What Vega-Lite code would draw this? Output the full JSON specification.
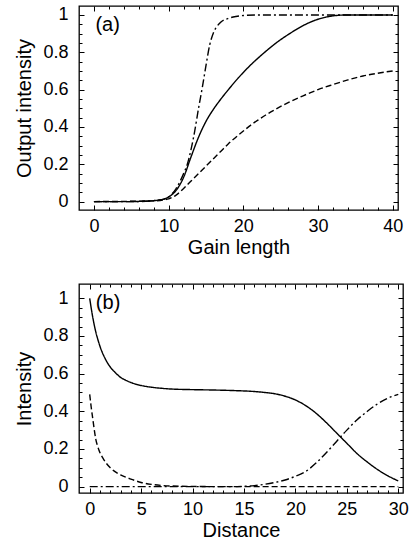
{
  "$schema": "https://vega.github.io/schema/vega-lite/v6.json",
  "background": "white",
  "padding": {"left": 14, "top": 4, "right": 5, "bottom": 2},
  "spacing": 24,
  "config": {
    "view": {"stroke": "black", "strokeWidth": 1.3},
    "font": "Liberation Sans",
    "axis": {
      "domain": false, "grid": false,
      "labelFont": "Liberation Sans", "labelFontSize": 18, "labelColor": "black",
      "titleFont": "Liberation Sans", "titleFontSize": 20, "titleFontWeight": "normal", "titleColor": "black",
      "tickColor": "black", "tickWidth": 1, "tickSize": -5
    }
  },
  "datasets": {
    "a": [
      {"x": 0, "y": 0, "s": "solid"}, {"x": 2, "y": 0, "s": "solid"}, {"x": 4, "y": 0, "s": "solid"}, {"x": 6, "y": 0.001, "s": "solid"}, {"x": 8, "y": 0.005, "s": "solid"}, {"x": 9, "y": 0.01, "s": "solid"}, {"x": 10, "y": 0.025, "s": "solid"}, {"x": 11, "y": 0.06, "s": "solid"}, {"x": 12, "y": 0.13, "s": "solid"}, {"x": 13, "y": 0.24, "s": "solid"}, {"x": 14, "y": 0.345, "s": "solid"}, {"x": 15, "y": 0.43, "s": "solid"}, {"x": 16, "y": 0.495, "s": "solid"}, {"x": 17, "y": 0.55, "s": "solid"}, {"x": 18, "y": 0.6, "s": "solid"}, {"x": 19, "y": 0.648, "s": "solid"}, {"x": 20, "y": 0.692, "s": "solid"}, {"x": 21, "y": 0.733, "s": "solid"}, {"x": 22, "y": 0.77, "s": "solid"}, {"x": 23, "y": 0.805, "s": "solid"}, {"x": 24, "y": 0.838, "s": "solid"}, {"x": 25, "y": 0.868, "s": "solid"}, {"x": 26, "y": 0.895, "s": "solid"}, {"x": 27, "y": 0.92, "s": "solid"}, {"x": 28, "y": 0.943, "s": "solid"}, {"x": 29, "y": 0.962, "s": "solid"}, {"x": 30, "y": 0.977, "s": "solid"}, {"x": 31, "y": 0.988, "s": "solid"}, {"x": 32, "y": 0.995, "s": "solid"}, {"x": 33, "y": 0.999, "s": "solid"}, {"x": 34, "y": 1.0, "s": "solid"}, {"x": 40, "y": 1.0, "s": "solid"},
      {"x": 0, "y": 0, "s": "dashdot"}, {"x": 6, "y": 0, "s": "dashdot"}, {"x": 8, "y": 0.005, "s": "dashdot"}, {"x": 9, "y": 0.01, "s": "dashdot"}, {"x": 10, "y": 0.025, "s": "dashdot"}, {"x": 11, "y": 0.07, "s": "dashdot"}, {"x": 12, "y": 0.15, "s": "dashdot"}, {"x": 12.5, "y": 0.2, "s": "dashdot"}, {"x": 13, "y": 0.28, "s": "dashdot"}, {"x": 13.5, "y": 0.38, "s": "dashdot"}, {"x": 14, "y": 0.5, "s": "dashdot"}, {"x": 14.5, "y": 0.61, "s": "dashdot"}, {"x": 15, "y": 0.73, "s": "dashdot"}, {"x": 15.5, "y": 0.84, "s": "dashdot"}, {"x": 16, "y": 0.905, "s": "dashdot"}, {"x": 16.5, "y": 0.94, "s": "dashdot"}, {"x": 17, "y": 0.962, "s": "dashdot"}, {"x": 18, "y": 0.982, "s": "dashdot"}, {"x": 19, "y": 0.992, "s": "dashdot"}, {"x": 20, "y": 0.997, "s": "dashdot"}, {"x": 22, "y": 1.0, "s": "dashdot"}, {"x": 40, "y": 1.0, "s": "dashdot"},
      {"x": 0, "y": 0, "s": "dashed"}, {"x": 8, "y": 0.004, "s": "dashed"}, {"x": 10, "y": 0.015, "s": "dashed"}, {"x": 11, "y": 0.035, "s": "dashed"}, {"x": 12, "y": 0.07, "s": "dashed"}, {"x": 13, "y": 0.11, "s": "dashed"}, {"x": 14, "y": 0.15, "s": "dashed"}, {"x": 15, "y": 0.19, "s": "dashed"}, {"x": 16, "y": 0.23, "s": "dashed"}, {"x": 17, "y": 0.27, "s": "dashed"}, {"x": 18, "y": 0.31, "s": "dashed"}, {"x": 19, "y": 0.345, "s": "dashed"}, {"x": 20, "y": 0.378, "s": "dashed"}, {"x": 21, "y": 0.41, "s": "dashed"}, {"x": 22, "y": 0.438, "s": "dashed"}, {"x": 23, "y": 0.464, "s": "dashed"}, {"x": 24, "y": 0.488, "s": "dashed"}, {"x": 25, "y": 0.51, "s": "dashed"}, {"x": 26, "y": 0.53, "s": "dashed"}, {"x": 27, "y": 0.549, "s": "dashed"}, {"x": 28, "y": 0.567, "s": "dashed"}, {"x": 29, "y": 0.584, "s": "dashed"}, {"x": 30, "y": 0.6, "s": "dashed"}, {"x": 32, "y": 0.627, "s": "dashed"}, {"x": 34, "y": 0.652, "s": "dashed"}, {"x": 36, "y": 0.673, "s": "dashed"}, {"x": 38, "y": 0.688, "s": "dashed"}, {"x": 40, "y": 0.7, "s": "dashed"}
    ],
    "b": [
      {"x": 0, "y": 1.0, "s": "solid"}, {"x": 0.2, "y": 0.93, "s": "solid"}, {"x": 0.4, "y": 0.87, "s": "solid"}, {"x": 0.6, "y": 0.82, "s": "solid"}, {"x": 0.8, "y": 0.78, "s": "solid"}, {"x": 1, "y": 0.745, "s": "solid"}, {"x": 1.5, "y": 0.68, "s": "solid"}, {"x": 2, "y": 0.635, "s": "solid"}, {"x": 2.5, "y": 0.605, "s": "solid"}, {"x": 3, "y": 0.58, "s": "solid"}, {"x": 3.5, "y": 0.565, "s": "solid"}, {"x": 4, "y": 0.553, "s": "solid"}, {"x": 5, "y": 0.537, "s": "solid"}, {"x": 6, "y": 0.528, "s": "solid"}, {"x": 7, "y": 0.522, "s": "solid"}, {"x": 8, "y": 0.518, "s": "solid"}, {"x": 10, "y": 0.515, "s": "solid"}, {"x": 12, "y": 0.513, "s": "solid"}, {"x": 14, "y": 0.51, "s": "solid"}, {"x": 16, "y": 0.505, "s": "solid"}, {"x": 17, "y": 0.5, "s": "solid"}, {"x": 18, "y": 0.493, "s": "solid"}, {"x": 19, "y": 0.48, "s": "solid"}, {"x": 20, "y": 0.46, "s": "solid"}, {"x": 21, "y": 0.43, "s": "solid"}, {"x": 22, "y": 0.39, "s": "solid"}, {"x": 23, "y": 0.34, "s": "solid"}, {"x": 24, "y": 0.285, "s": "solid"}, {"x": 25, "y": 0.23, "s": "solid"}, {"x": 26, "y": 0.175, "s": "solid"}, {"x": 27, "y": 0.13, "s": "solid"}, {"x": 28, "y": 0.09, "s": "solid"}, {"x": 29, "y": 0.057, "s": "solid"}, {"x": 30, "y": 0.03, "s": "solid"},
      {"x": 0, "y": 0.49, "s": "dashed"}, {"x": 0.15, "y": 0.42, "s": "dashed"}, {"x": 0.3, "y": 0.36, "s": "dashed"}, {"x": 0.45, "y": 0.3, "s": "dashed"}, {"x": 0.6, "y": 0.25, "s": "dashed"}, {"x": 0.8, "y": 0.21, "s": "dashed"}, {"x": 1, "y": 0.18, "s": "dashed"}, {"x": 1.3, "y": 0.15, "s": "dashed"}, {"x": 1.6, "y": 0.125, "s": "dashed"}, {"x": 2, "y": 0.1, "s": "dashed"}, {"x": 2.5, "y": 0.078, "s": "dashed"}, {"x": 3, "y": 0.062, "s": "dashed"}, {"x": 3.5, "y": 0.05, "s": "dashed"}, {"x": 4, "y": 0.04, "s": "dashed"}, {"x": 5, "y": 0.022, "s": "dashed"}, {"x": 6, "y": 0.012, "s": "dashed"}, {"x": 7, "y": 0.006, "s": "dashed"}, {"x": 8, "y": 0.003, "s": "dashed"}, {"x": 10, "y": 0.001, "s": "dashed"}, {"x": 12, "y": 0, "s": "dashed"}, {"x": 30, "y": 0, "s": "dashed"},
      {"x": 0, "y": 0, "s": "dashdot"}, {"x": 14, "y": 0, "s": "dashdot"}, {"x": 15, "y": 0.002, "s": "dashdot"}, {"x": 16, "y": 0.005, "s": "dashdot"}, {"x": 17, "y": 0.012, "s": "dashdot"}, {"x": 18, "y": 0.022, "s": "dashdot"}, {"x": 19, "y": 0.035, "s": "dashdot"}, {"x": 20, "y": 0.055, "s": "dashdot"}, {"x": 21, "y": 0.08, "s": "dashdot"}, {"x": 22, "y": 0.125, "s": "dashdot"}, {"x": 23, "y": 0.18, "s": "dashdot"}, {"x": 24, "y": 0.24, "s": "dashdot"}, {"x": 25, "y": 0.3, "s": "dashdot"}, {"x": 26, "y": 0.355, "s": "dashdot"}, {"x": 27, "y": 0.4, "s": "dashdot"}, {"x": 28, "y": 0.44, "s": "dashdot"}, {"x": 29, "y": 0.47, "s": "dashdot"}, {"x": 30, "y": 0.49, "s": "dashdot"}
    ],
    "labA": [{"x": 0.2, "y": 0.945, "t": "(a)"}],
    "labB": [{"x": 0.6, "y": 0.975, "t": "(b)"}]
  },
  "vconcat": [
    {
      "width": 319, "height": 204,
      "resolve": {"axis": {"x": "independent", "y": "independent"}},
      "layer": [
        {
          "data": {"name": "a"},
          "mark": {"type": "line", "color": "black", "strokeWidth": 1.4, "interpolate": "monotone"},
          "encoding": {
            "x": {"field": "x", "type": "quantitative", "title": "Gain length",
              "scale": {"domain": [-2, 40.7], "nice": false, "zero": false},
              "axis": {"orient": "bottom", "values": [0,2,4,6,8,10,12,14,16,18,20,22,24,26,28,30,32,34,36,38,40],
                "labelExpr": "datum.value % 10 === 0 ? datum.label : ''",
                "tickDash": {"condition": {"test": "datum.value % 10 === 0", "value": [6, 0]}, "value": [3, 20]},
                "labelPadding": 12, "titlePadding": 2}},
            "y": {"field": "y", "type": "quantitative", "title": "Output intensity",
              "scale": {"domain": [-0.045, 1.048], "nice": false, "zero": false},
              "axis": {"orient": "left", "values": [0,0.05,0.1,0.15,0.2,0.25,0.3,0.35,0.4,0.45,0.5,0.55,0.6,0.65,0.7,0.75,0.8,0.85,0.9,0.95,1],
                "labelExpr": "abs(datum.value*5 - round(datum.value*5)) < 1e-6 ? format(datum.value, '.1~f') : ''",
                "tickDash": {"condition": {"test": "abs(datum.value*5 - round(datum.value*5)) < 1e-6", "value": [6, 0]}, "value": [3, 20]},
                "labelPadding": 16, "titlePadding": 8}},
            "strokeDash": {"field": "s", "type": "nominal", "legend": null,
              "scale": {"domain": ["solid", "dashed", "dashdot"], "range": [[1, 0], [6, 3], [8, 3, 2, 3]]}}
          }
        },
        {
          "data": {"name": "labA"},
          "mark": {"type": "text", "align": "left", "baseline": "middle", "fontSize": 20, "font": "Liberation Sans", "color": "black"},
          "encoding": {
            "x": {"field": "x", "type": "quantitative", "axis": {"orient": "top", "labels": false, "title": null, "values": [0,2,4,6,8,10,12,14,16,18,20,22,24,26,28,30,32,34,36,38,40],
                "tickDash": {"condition": {"test": "datum.value % 10 === 0", "value": [6, 0]}, "value": [3, 20]}}},
            "y": {"field": "y", "type": "quantitative", "axis": {"orient": "right", "labels": false, "title": null, "values": [0,0.05,0.1,0.15,0.2,0.25,0.3,0.35,0.4,0.45,0.5,0.55,0.6,0.65,0.7,0.75,0.8,0.85,0.9,0.95,1],
                "tickDash": {"condition": {"test": "abs(datum.value*5 - round(datum.value*5)) < 1e-6", "value": [6, 0]}, "value": [3, 20]}}},
            "text": {"field": "t"}
          }
        }
      ]
    },
    {
      "width": 324, "height": 209,
      "resolve": {"axis": {"x": "independent", "y": "independent"}},
      "layer": [
        {
          "data": {"name": "b"},
          "mark": {"type": "line", "color": "black", "strokeWidth": 1.4, "interpolate": "monotone"},
          "encoding": {
            "x": {"field": "x", "type": "quantitative", "title": "Distance",
              "scale": {"domain": [-1.04, 30.46], "nice": false, "zero": false},
              "axis": {"orient": "bottom", "values": [0,1,2,3,4,5,6,7,8,9,10,11,12,13,14,15,16,17,18,19,20,21,22,23,24,25,26,27,28,29,30],
                "labelExpr": "datum.value % 5 === 0 ? datum.label : ''",
                "tickDash": {"condition": {"test": "datum.value % 5 === 0", "value": [6, 0]}, "value": [3, 20]},
                "labelPadding": 12, "titlePadding": 2}},
            "y": {"field": "y", "type": "quantitative", "title": "Intensity",
              "scale": {"domain": [-0.034, 1.076], "nice": false, "zero": false},
              "axis": {"orient": "left", "values": [0,0.05,0.1,0.15,0.2,0.25,0.3,0.35,0.4,0.45,0.5,0.55,0.6,0.65,0.7,0.75,0.8,0.85,0.9,0.95,1],
                "labelExpr": "abs(datum.value*5 - round(datum.value*5)) < 1e-6 ? format(datum.value, '.1~f') : ''",
                "tickDash": {"condition": {"test": "abs(datum.value*5 - round(datum.value*5)) < 1e-6", "value": [6, 0]}, "value": [3, 20]},
                "labelPadding": 16, "titlePadding": 8}},
            "strokeDash": {"field": "s", "type": "nominal", "legend": null,
              "scale": {"domain": ["solid", "dashed", "dashdot"], "range": [[1, 0], [6, 3], [8, 3, 2, 3]]}}
          }
        },
        {
          "data": {"name": "labB"},
          "mark": {"type": "text", "align": "left", "baseline": "middle", "fontSize": 20, "font": "Liberation Sans", "color": "black"},
          "encoding": {
            "x": {"field": "x", "type": "quantitative", "axis": {"orient": "top", "labels": false, "title": null, "values": [0,1,2,3,4,5,6,7,8,9,10,11,12,13,14,15,16,17,18,19,20,21,22,23,24,25,26,27,28,29,30],
                "tickDash": {"condition": {"test": "datum.value % 5 === 0", "value": [6, 0]}, "value": [3, 20]}}},
            "y": {"field": "y", "type": "quantitative", "axis": {"orient": "right", "labels": false, "title": null, "values": [0,0.05,0.1,0.15,0.2,0.25,0.3,0.35,0.4,0.45,0.5,0.55,0.6,0.65,0.7,0.75,0.8,0.85,0.9,0.95,1],
                "tickDash": {"condition": {"test": "abs(datum.value*5 - round(datum.value*5)) < 1e-6", "value": [6, 0]}, "value": [3, 20]}}},
            "text": {"field": "t"}
          }
        }
      ]
    }
  ]
}
